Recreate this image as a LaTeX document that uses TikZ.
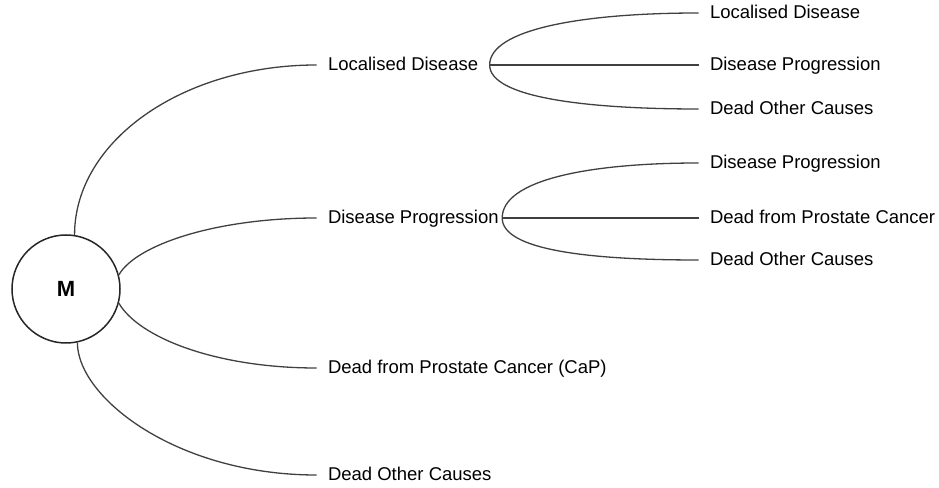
\documentclass[tikz,border=0pt]{standalone}
\usepackage{fontspec}
\setmainfont{Liberation Sans}
\usetikzlibrary{positioning}

\begin{document}
\begin{tikzpicture}[x=1pt, y=1pt,
    state/.style={anchor=west, inner sep=0pt, outer xsep=11.5pt, text height=13pt, text depth=1.5pt, font=\fontsize{18.5}{22}\selectfont},
    branch/.style={draw=black!75, line width=1.3pt}]

    \useasboundingbox (0,0) rectangle (939,487);

    % Markov node
    \node[circle, draw=black!85, line width=1.5pt, minimum size=108pt, font=\fontsize{22}{26}\selectfont\bfseries] (m) at (66,198) {M};

    % States after the first cycle
    \node[state] (ld1) at (316.5,422) {Localised Disease};
    \node[state] (dp1) at (316.5,269) {Disease Progression};
    \node[state] (dc1) at (316.5,119) {Dead from Prostate Cancer (CaP)};
    \node[state] (do1) at (316.5,12) {Dead Other Causes};

    % States after the second cycle
    \node[state] (ld2) at (698.5,474) {Localised Disease};
    \node[state] (dp2) at (698.5,422) {Disease Progression};
    \node[state] (do2) at (698.5,378) {Dead Other Causes};

    \node[state] (dp3) at (698.5,324) {Disease Progression};
    \node[state] (dc3) at (698.5,269) {Dead from Prostate Cancer};
    \node[state] (do3) at (698.5,227) {Dead Other Causes};

    % Branches from M
    \draw[branch] (m.81.5) to[out=90, in=180, out distance=94pt, in distance=134pt] (ld1.west);
    \draw[branch] (m.15) to[out=60, in=180, out distance=35pt, in distance=100pt] (dp1.west);
    \draw[branch] (m.-15) to[out=-60, in=180, out distance=40pt, in distance=100pt] (dc1.west);
    \draw[branch] (m.-78) to[out=-90, in=180, out distance=55pt, in distance=140pt] (do1.west);

    % Branches from Localised Disease
    \draw[branch] (ld1.east) to[out=90, in=180, out distance=36pt, in distance=115pt] (ld2.west);
    \draw[branch] (ld1.east) -- (dp2.west);
    \draw[branch] (ld1.east) to[out=-90, in=180, out distance=32pt, in distance=115pt] (do2.west);

    % Branches from Disease Progression
    \draw[branch] ([xshift=-8pt]dp1.east) to[out=90, in=180, out distance=38pt, in distance=110pt] (dp3.west);
    \draw[branch] ([xshift=-8pt]dp1.east) -- (dc3.west);
    \draw[branch] ([xshift=-8pt]dp1.east) to[out=-90, in=180, out distance=32pt, in distance=110pt] (do3.west);

\end{tikzpicture}
\end{document}
